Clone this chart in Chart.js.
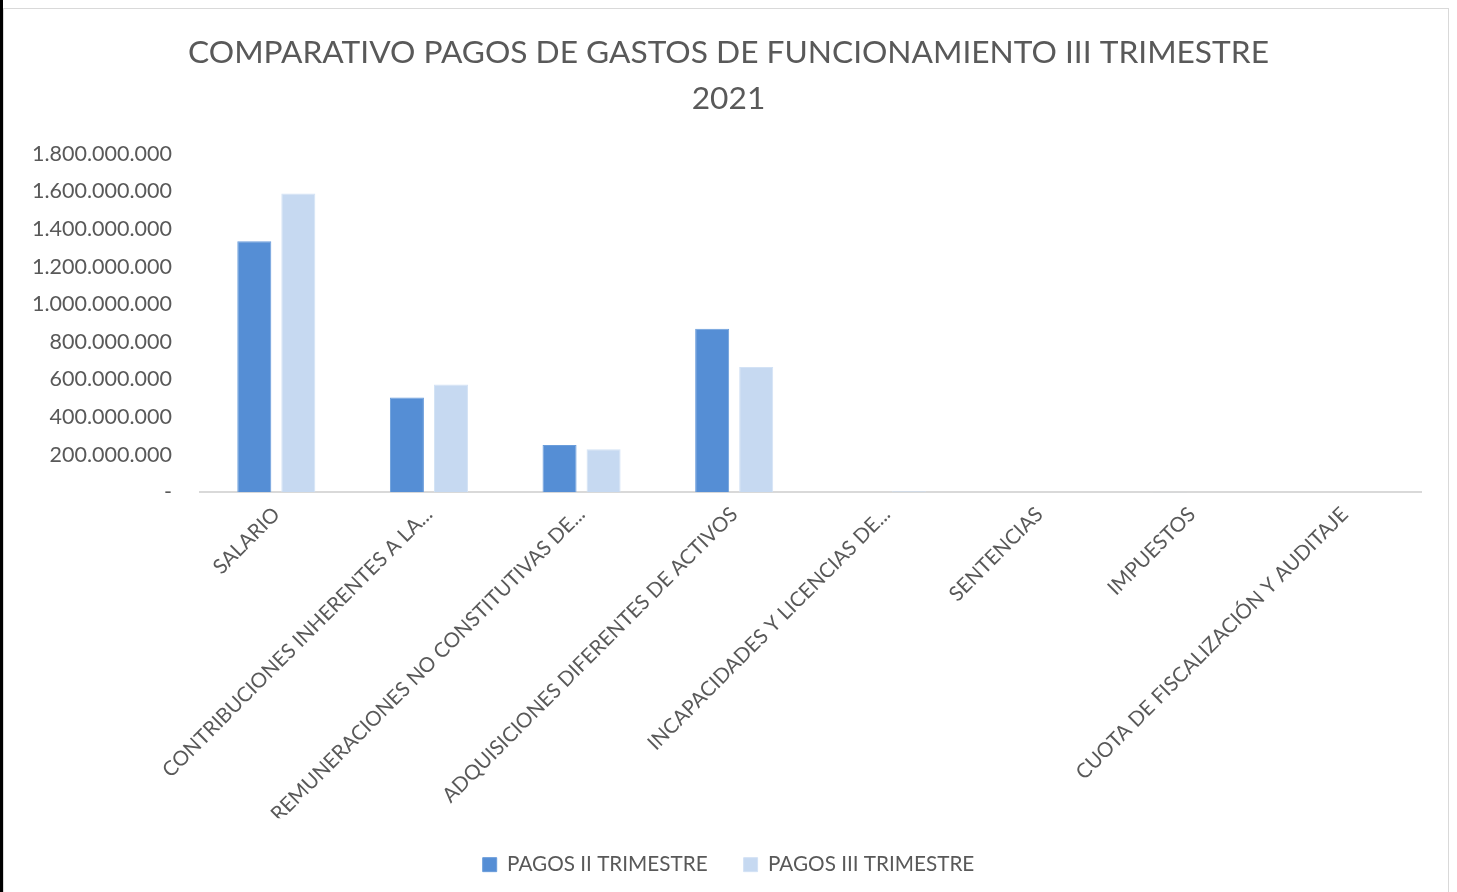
<!DOCTYPE html>
<html>
<head>
<meta charset="utf-8">
<script src="https://cdn.jsdelivr.net/npm/chart.js@4/dist/chart.umd.min.js"></script>
<style>
  html, body { margin: 0; padding: 0; background: #fff; }
  body { width: 1457px; height: 892px; position: relative; overflow: hidden; }
  #frame { position: absolute; left: 3px; top: 8px; width: 1446px; height: 900px; border: 1px solid #d9d9d9; box-sizing: border-box; }
  #edge { position: absolute; left: 0; top: 0; width: 3px; height: 892px; background: #000; }
  #wrap { position: absolute; left: 0; top: 0; width: 1457px; height: 892px; }
  canvas { display: block; }
</style>
</head>
<body>
<div id="edge"></div>
<div id="frame"></div>
<div id="wrap"><canvas id="c" width="1457" height="892" style="width:1457px;height:892px"></canvas></div>
<script>
const titleLines = ['COMPARATIVO PAGOS DE GASTOS DE FUNCIONAMIENTO III TRIMESTRE', '2021'];
const categories = [
  'SALARIO',
  'CONTRIBUCIONES INHERENTES A LA...',
  'REMUNERACIONES NO CONSTITUTIVAS DE...',
  'ADQUISICIONES DIFERENTES DE ACTIVOS',
  'INCAPACIDADES Y LICENCIAS DE...',
  'SENTENCIAS',
  'IMPUESTOS',
  'CUOTA DE FISCALIZACIÓN Y AUDITAJE'
];
const seriesNames = ['PAGOS II TRIMESTRE', 'PAGOS III TRIMESTRE'];
const pagosII = [1335000000, 504000000, 252000000, 870000000, 0, 0, 1000000, 0];
const pagosIII = [1590000000, 573000000, 229000000, 666000000, 5000000, 0, 0, 0];
const yMax = 1800000000;
const yStep = 200000000;

function fmt(v) {
  if (v === 0) return '-';
  return String(Math.round(v)).replace(/\B(?=(\d{3})+(?!\d))/g, '.');
}

const FONT = 'Lato, "Open Sans", sans-serif';
const GREY = '#595959';

new Chart(document.getElementById('c'), {
  type: 'bar',
  data: {
    labels: categories,
    datasets: [
      { label: seriesNames[0], data: pagosII, backgroundColor: '#558ed5', borderColor: '#6a9ddb', borderWidth: 1,
        categoryPercentage: 0.577, barPercentage: 0.773 },
      { label: seriesNames[1], data: pagosIII, backgroundColor: '#c6d9f1', borderColor: '#d3e2f5', borderWidth: 1,
        categoryPercentage: 0.577, barPercentage: 0.773 }
    ]
  },
  options: {
    responsive: false,
    maintainAspectRatio: false,
    animation: false,
    devicePixelRatio: 1,
    layout: { padding: { left: 0, right: 0, top: 0, bottom: 7 } },
    plugins: {
      title: {
        display: true,
        text: titleLines,
        color: GREY,
        font: { family: FONT, size: 31.7, weight: 'normal', lineHeight: 1.45 },
        padding: { top: 30, bottom: 32 }
      },
      legend: {
        position: 'bottom',
        labels: {
          color: GREY,
          font: { family: FONT, size: 20.7 },
          boxWidth: 14, boxHeight: 14, padding: 36
        }
      },
      tooltip: { enabled: false }
    },
    scales: {
      x: {
        grid: { display: false, drawTicks: false },
        border: { display: true, color: '#d9d9d9', width: 2 },
        ticks: {
          color: GREY,
          font: { family: FONT, size: 20.5 },
          maxRotation: 45, minRotation: 45, autoSkip: false, padding: 10
        },
        afterFit: s => { s.height = 326; }
      },
      y: {
        min: 0, max: yMax,
        grid: { display: false, drawTicks: false },
        border: { display: false },
        ticks: {
          stepSize: yStep,
          color: GREY,
          font: { family: FONT, size: 21.5 },
          padding: 28,
          callback: v => fmt(v)
        },
        afterFit: s => { s.width = 200; }
      },
      yR: {
        position: 'right',
        min: 0, max: yMax,
        grid: { display: false, drawTicks: false },
        border: { display: false },
        ticks: { display: false },
        afterFit: s => { s.width = 36; }
      }
    }
  }
});
</script>
</body>
</html>
